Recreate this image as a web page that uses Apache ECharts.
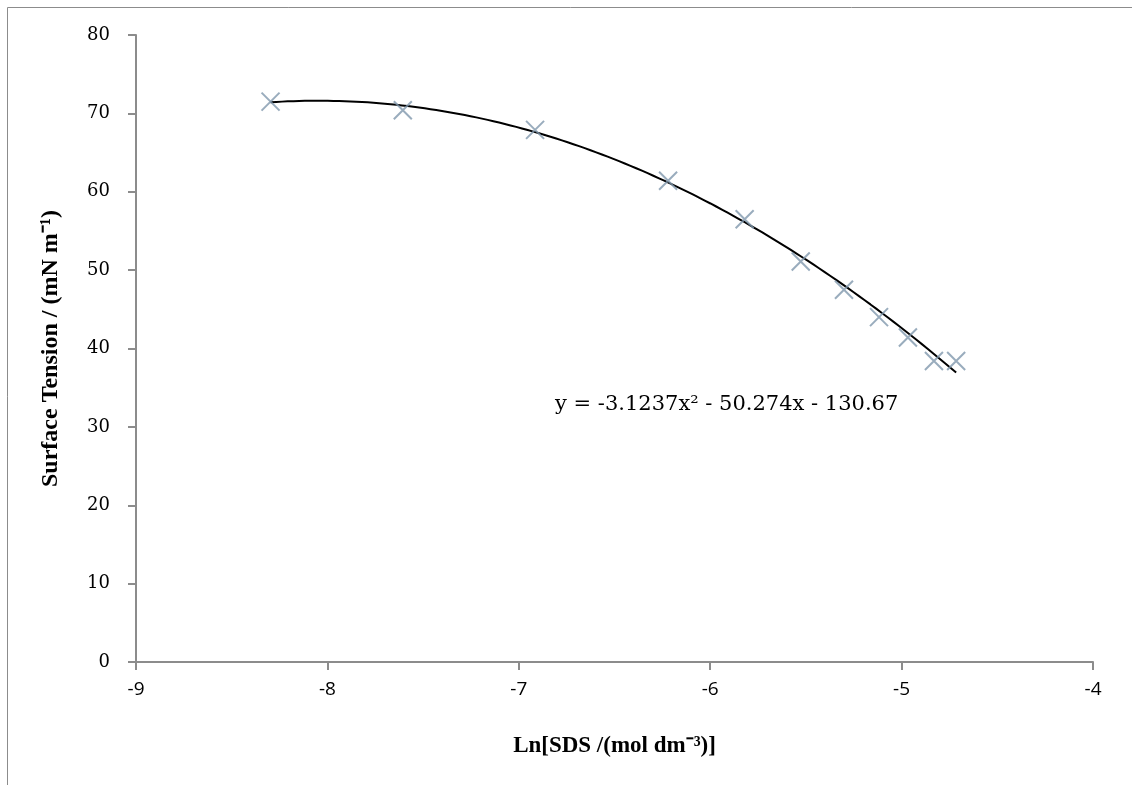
<!DOCTYPE html>
<html><head><meta charset="utf-8">
<script src="https://cdn.jsdelivr.net/npm/echarts@6/dist/echarts.min.js"></script>
<style>html,body{margin:0;padding:0;background:#fff}#c{width:1132px;height:785px}</style>
</head><body><div id="c"></div>
<script>
// Data
var lnConc = [-8.297, -7.606, -6.915, -6.220, -5.820, -5.527, -5.301, -5.118, -4.967, -4.831, -4.715];
var tension = [71.5, 70.4, 67.9, 61.4, 56.5, 51.1, 47.5, 44.0, 41.4, 38.4, 38.4];
var trendCoefs = [-3.1237, -50.274, -130.67]; // y = a x^2 + b x + c (as shown on chart)
var equationText = 'y = -3.1237x\u00b2 - 50.274x - 130.67';
var xTitle = 'Ln[SDS /(mol dm\u207b\u00b3)]';
var yTitle = 'Surface Tension / (mN m\u207b\u00b9)';

var pts = lnConc.map(function(x,i){return [x, tension[i]];});
var trend = [];
var x0 = lnConc[0], x1 = lnConc[lnConc.length-1], n = 120;
for (var i=0;i<=n;i++){var x=x0+(x1-x0)*i/n; trend.push([x, trendCoefs[0]*x*x+trendCoefs[1]*x+trendCoefs[2]]);}

var axisGray = '#8c8c8c';
var chart = echarts.init(document.getElementById('c'));
chart.setOption({
  animation:false,
  grid:{left:136,right:39,top:35,bottom:123},
  xAxis:{type:'value',min:-9,max:-4,interval:1,
    axisLine:{show:true,onZero:false,lineStyle:{color:axisGray,width:2}},
    axisTick:{show:true,length:8,lineStyle:{color:axisGray,width:2}},
    splitLine:{show:false},
    axisLabel:{margin:18,color:'#000',fontSize:19,fontFamily:"'Open Sans', sans-serif"},
    name:xTitle,nameLocation:'middle',nameGap:73,
    nameTextStyle:{color:'#000',fontSize:23,fontWeight:'bold',fontFamily:'Liberation Serif'}},
  yAxis:{type:'value',min:0,max:80,interval:10,
    axisLine:{show:true,lineStyle:{color:axisGray,width:2}},
    axisTick:{show:true,length:8,lineStyle:{color:axisGray,width:2}},
    splitLine:{show:false},
    axisLabel:{margin:26,color:'#000',fontSize:18,fontFamily:"'DejaVu Serif', serif"},
    name:yTitle,nameLocation:'middle',nameGap:73,
    nameTextStyle:{color:'#000',fontSize:24,fontWeight:'bold',fontFamily:'Liberation Serif'}},
  series:[
    {type:'line',data:trend,showSymbol:false,smooth:false,silent:true,
     lineStyle:{color:'#000',width:2},z:2},
    {type:'scatter',data:pts,symbol:'path://M0,0L10,10M10,0L0,10',symbolSize:18,
     itemStyle:{color:'rgba(0,0,0,0)',borderColor:'#7f97ac',borderWidth:2},z:3}
  ],
  graphic:[
    {type:'rect',shape:{x:7.5,y:7.5,width:1300,height:1000},style:{fill:'none',stroke:'#8c8c8c',lineWidth:1},silent:true},
    {type:'text',x:555,y:405,style:{text:equationText,fill:'#000',fontSize:21,fontFamily:"'DejaVu Serif', serif",textVerticalAlign:'middle'}}
  ]
});
</script></body></html>
